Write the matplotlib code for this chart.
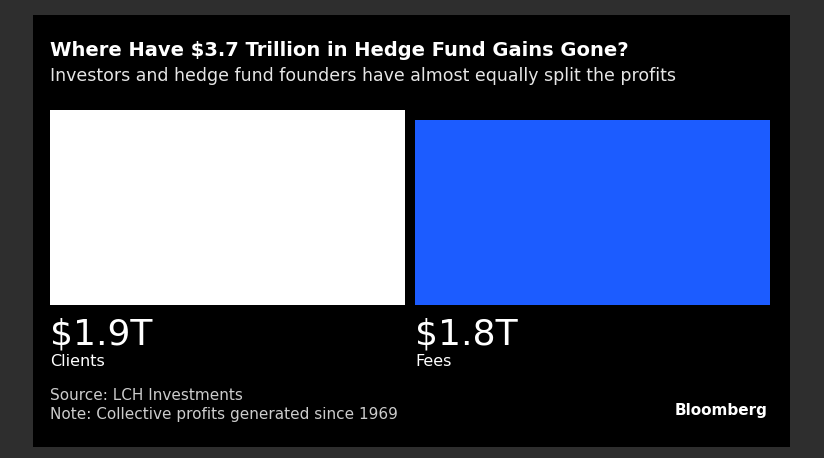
import matplotlib
matplotlib.use("Agg")
import matplotlib.pyplot as plt
from matplotlib.patches import Rectangle

categories = ["Clients", "Fees"]
values = [1.9, 1.8]
value_labels = ["$1.9T", "$1.8T"]
colors = ["#ffffff", "#1c5cff"]

W, H = 824, 458
fig = plt.figure(figsize=(W / 100, H / 100), dpi=100)
fig.patch.set_facecolor("#2e2e2e")
# black panel as a background axes
bg = fig.add_axes([33 / W, 11 / H, 757 / W, 432 / H], zorder=0)
bg.set_facecolor("black")
bg.set_xticks([])
bg.set_yticks([])
for s in bg.spines.values():
    s.set_visible(False)

fig.text(50 / W, 1 - 50 / H, "Where Have $3.7 Trillion in Hedge Fund Gains Gone?",
         color="white", fontsize=14, fontweight="bold", va="center")
fig.text(50 / W, 1 - 76 / H,
         "Investors and hedge fund founders have almost equally split the profits",
         color="#e6e6e6", fontsize=12.5, va="center")

ax = fig.add_axes([50 / W, 153 / H, 720 / W, 195 / H], zorder=2)
ax.set_xlim(0, 720)
ax.set_ylim(0, max(values))
lefts = [0, 365]
for x0, v, c, lab, cat in zip(lefts, values, colors, value_labels, categories):
    ax.bar(x0, v, width=355, align="edge", color=c)
    fig.text((50 + x0) / W, 1 - 334 / H, lab, color="white", fontsize=26,
             va="center")
    fig.text((50 + x0) / W, 1 - 362 / H, cat, color="white", fontsize=11.5,
             va="center")
ax.axis("off")

fig.text(50 / W, 1 - 396 / H, "Source: LCH Investments", color="#cccccc",
         fontsize=11, va="center")
fig.text(50 / W, 1 - 414 / H, "Note: Collective profits generated since 1969",
         color="#cccccc", fontsize=11, va="center")
fig.text(768 / W, 1 - 411 / H, "Bloomberg", color="white", fontsize=11,
         fontweight="bold", ha="right", va="center")

fig.savefig("out.png", dpi=100, facecolor=fig.get_facecolor())
